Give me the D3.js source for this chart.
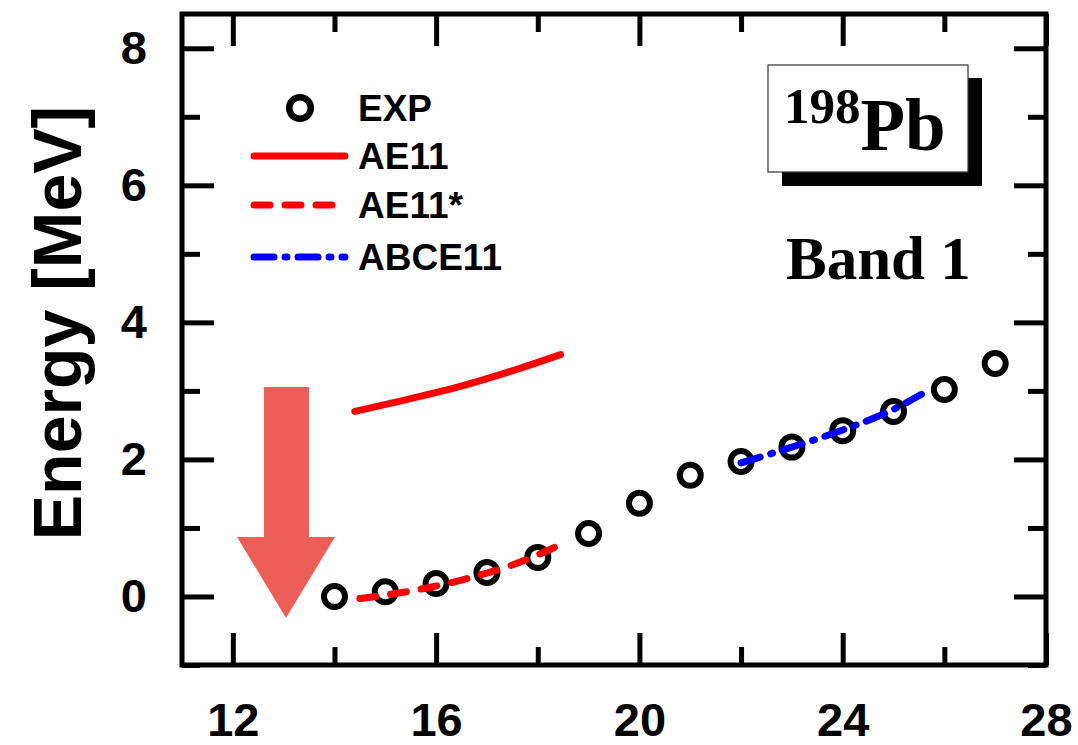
<!DOCTYPE html>
<html>
<head>
<meta charset="utf-8">
<script src="https://cdn.jsdelivr.net/npm/d3@7"></script>
<style>
  body { margin: 0; background: #fff; }
  svg { display: block; }
</style>
</head>
<body>
<div id="chart"></div>
<script>
// experimental levels of band 1 (spin, energy in MeV)
var expSpin = [14, 15, 16, 17, 18, 19, 20, 21, 22, 23, 24, 25, 26, 27];
var expEnergy = [0.0, 0.07, 0.19, 0.35, 0.57, 0.92, 1.36, 1.77, 1.97, 2.18, 2.42, 2.70, 3.02, 3.40];

// calculations
var ae11Spin = [14.4, 15.4, 16.4, 17.4, 18.45];
var ae11Energy = [2.70, 2.87, 3.05, 3.27, 3.53];

var ae11sSpin = [14.5, 15.5, 16.5, 17.5, 18.55];
var ae11sEnergy = [-0.03, 0.08, 0.24, 0.46, 0.79];

var abceSpin = [22, 23, 24, 25, 25.55];
var abceEnergy = [1.95, 2.18, 2.43, 2.73, 2.95];

var xMajor = [12, 16, 20, 24, 28];
var xMinor = [14, 18, 22, 26];
var yMajor = [0, 2, 4, 6, 8];
var yMinor = [-1, 1, 3, 5, 7];

var legendNames = ["EXP", "AE11", "AE11*", "ABCE11"];

var W = 1078, H = 745;
var pLeft = 182, pRight = 1046, pTop = 14, pBottom = 665;
var sans = "'Liberation Sans', Arial, sans-serif";
var serif = "'Liberation Serif', 'Times New Roman', serif";

var svg = d3.select("#chart").append("svg")
  .attr("width", W).attr("height", H);

var x = d3.scaleLinear().domain([11, 28]).range([pLeft, pRight]);
var y = d3.scaleLinear().domain([-1, 8.5]).range([pBottom, pTop]);

function styleAxis(g) {
  g.select(".domain").remove();
  g.selectAll(".tick line").attr("stroke", "#000").attr("stroke-width", 5);
  g.selectAll(".tick text")
    .attr("fill", "#000")
    .style("font-family", sans)
    .style("font-weight", "bold")
    .style("font-size", "47px");
}

// major ticks with labels
svg.append("g").attr("transform", "translate(0," + pBottom + ")")
  .call(d3.axisBottom(x).tickValues(xMajor).tickSize(-32).tickPadding(38).tickFormat(d3.format("d")))
  .call(styleAxis);
svg.append("g").attr("transform", "translate(" + pLeft + ",0)")
  .call(d3.axisLeft(y).tickValues(yMajor).tickSize(-32).tickPadding(35).tickFormat(d3.format("d")))
  .call(styleAxis);
svg.append("g").attr("transform", "translate(0," + pTop + ")")
  .call(d3.axisTop(x).tickValues(xMajor).tickSize(-32).tickFormat(""))
  .call(styleAxis);
svg.append("g").attr("transform", "translate(" + pRight + ",0)")
  .call(d3.axisRight(y).tickValues(yMajor).tickSize(-32).tickFormat(""))
  .call(styleAxis);

// minor ticks
svg.append("g").attr("transform", "translate(0," + pBottom + ")")
  .call(d3.axisBottom(x).tickValues(xMinor).tickSize(-18).tickFormat(""))
  .call(styleAxis);
svg.append("g").attr("transform", "translate(0," + pTop + ")")
  .call(d3.axisTop(x).tickValues(xMinor).tickSize(-18).tickFormat(""))
  .call(styleAxis);
svg.append("g").attr("transform", "translate(" + pLeft + ",0)")
  .call(d3.axisLeft(y).tickValues(yMinor).tickSize(-18).tickFormat(""))
  .call(styleAxis);
svg.append("g").attr("transform", "translate(" + pRight + ",0)")
  .call(d3.axisRight(y).tickValues(yMinor).tickSize(-18).tickFormat(""))
  .call(styleAxis);

// frame
svg.append("rect")
  .attr("x", pLeft).attr("y", pTop)
  .attr("width", pRight - pLeft).attr("height", pBottom - pTop)
  .attr("fill", "none").attr("stroke", "#000").attr("stroke-width", 5);

// y title
svg.append("text")
  .attr("transform", "translate(81,323) rotate(-90)")
  .attr("text-anchor", "middle")
  .style("font-family", sans).style("font-weight", "bold").style("font-size", "68px")
  .text("Energy [MeV]");

// big arrow
var arrow = d3.path();
arrow.moveTo(264, 387);
arrow.lineTo(309, 387);
arrow.lineTo(309, 537);
arrow.lineTo(335, 537);
arrow.lineTo(286, 618);
arrow.lineTo(237, 537);
arrow.lineTo(264, 537);
arrow.closePath();
svg.append("path").attr("d", arrow.toString()).attr("fill", "#ec5f59");

// experimental points
svg.selectAll("circle.exp")
  .data(expSpin).enter()
  .append("circle")
  .attr("class", "exp")
  .attr("cx", function(d) { return x(d); })
  .attr("cy", function(d, i) { return y(expEnergy[i]); })
  .attr("r", 10.5)
  .attr("fill", "none")
  .attr("stroke", "#000")
  .attr("stroke-width", 6);

var line = d3.line()
  .x(function(d) { return x(d[0]); })
  .y(function(d) { return y(d[1]); })
  .curve(d3.curveMonotoneX);

function addCurve(xs, ys, color, dash) {
  var pts = xs.map(function(v, i) { return [v, ys[i]]; });
  svg.append("path")
    .attr("d", line(pts))
    .attr("fill", "none")
    .attr("stroke", color)
    .attr("stroke-width", 7)
    .attr("stroke-linecap", "round")
    .attr("stroke-dasharray", dash);
}

var styles = [
  { color: "#ff0000", dash: null },
  { color: "#ff0000", dash: "16,15" },
  { color: "#0000ff", dash: "20,11,2,11" }
];

addCurve(ae11Spin, ae11Energy, styles[0].color, styles[0].dash);
addCurve(ae11sSpin, ae11sEnergy, styles[1].color, styles[1].dash);
addCurve(abceSpin, abceEnergy, styles[2].color, styles[2].dash);

// legend
var legY = [108, 156, 205, 257];
var legend = svg.append("g");
legend.append("circle")
  .attr("cx", 300).attr("cy", legY[0]).attr("r", 10.8)
  .attr("fill", "none").attr("stroke", "#000").attr("stroke-width", 6.5);
styles.forEach(function(s, i) {
  legend.append("line")
    .attr("x1", 254).attr("x2", 345)
    .attr("y1", legY[i + 1]).attr("y2", legY[i + 1])
    .attr("stroke", s.color).attr("stroke-width", 7)
    .attr("stroke-linecap", "round")
    .attr("stroke-dasharray", s.dash);
});
legend.selectAll("text")
  .data(legendNames).enter()
  .append("text")
  .attr("x", 358)
  .attr("y", function(d, i) { return legY[i] + 13; })
  .style("font-family", sans).style("font-weight", "bold").style("font-size", "37px")
  .text(function(d) { return d; });

// nucleus label box with shadow
svg.append("rect").attr("x", 782).attr("y", 78).attr("width", 200).attr("height", 108).attr("fill", "#000");
svg.append("rect").attr("x", 768).attr("y", 65).attr("width", 200).attr("height", 107)
  .attr("fill", "#fff").attr("stroke", "#333").attr("stroke-width", 1.2);
var nuc = svg.append("text")
  .attr("x", 784).attr("y", 150)
  .style("font-family", serif).style("font-weight", "bold");
nuc.append("tspan").attr("dy", -27).style("font-size", "51px").text("198");
nuc.append("tspan").attr("dy", 27).style("font-size", "73px").text("Pb");

svg.append("text")
  .attr("x", 786).attr("y", 279)
  .style("font-family", serif).style("font-weight", "bold").style("font-size", "61px")
  .text("Band 1");
</script>
</body>
</html>
